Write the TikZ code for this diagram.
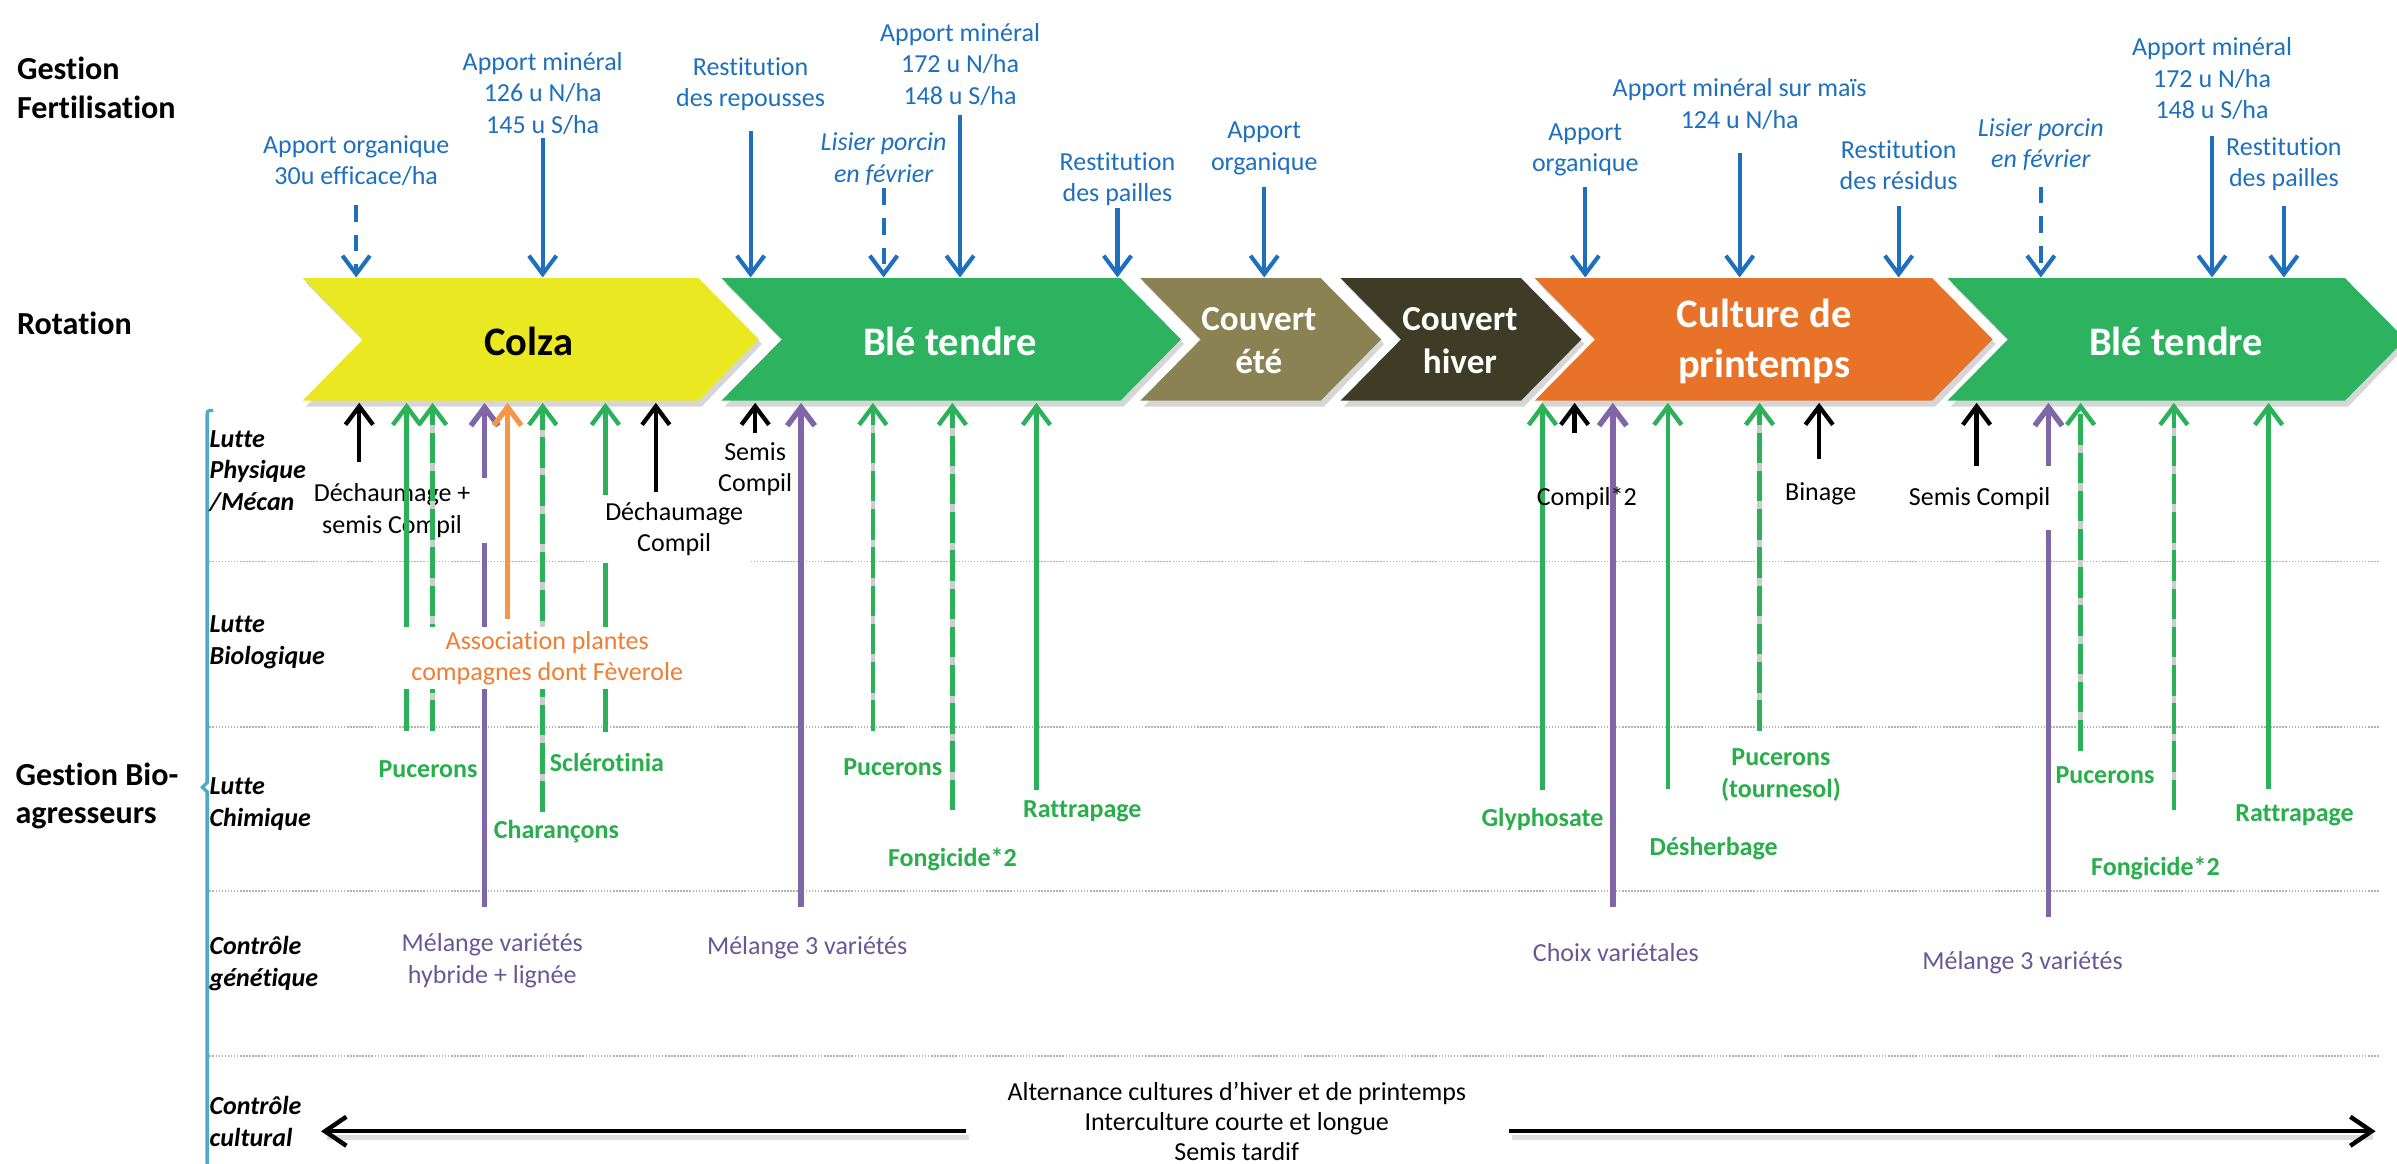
\documentclass[tikz,border=0pt]{standalone}
\usepackage{fontspec}
\setmainfont{Carlito}[Ligatures={NoCommon,NoContextual}, Contextuals=NoAlternate]
\usetikzlibrary{arrows.meta}
\definecolor{fblue}{RGB}{30,112,190}
\definecolor{ggreen}{RGB}{43,177,88}
\definecolor{gtext}{RGB}{40,175,75}
\definecolor{vpurple}{RGB}{128,102,168}
\definecolor{ptext}{RGB}{104,88,150}
\definecolor{oline}{RGB}{247,150,70}
\definecolor{otext}{RGB}{240,125,50}
\definecolor{cyel}{RGB}{234,232,32}
\definecolor{cgreen}{RGB}{45,178,96}
\definecolor{colive}{RGB}{138,130,82}
\definecolor{cdark}{RGB}{62,60,38}
\definecolor{corange}{RGB}{232,114,40}
\definecolor{bracketblue}{RGB}{75,172,198}
\newcommand\mychev[3]{%
  \fill[black,opacity=0.16] ({#1+2},185) -- ({#2+2},185) -- ({#2+41.5},225) -- ({#2+2},266) -- ({#1+2},266) -- ({#1+41.5},225) -- cycle;
  \fill[#3] (#1,182) -- (#2,182) -- ({#2+39.5},222) -- (#2,262) -- (#1,262) -- ({#1+39.5},222) -- cycle;}
\begin{document}
\begin{tikzpicture}[x=1pt,y=-1pt,
  lab/.style={font=\fontsize{17}{20.5}\selectfont, align=center, inner sep=0pt},
  flab/.style={lab, text=fblue},
  flabi/.style={flab, font=\fontsize{17}{20.5}\selectfont\itshape},
  klab/.style={lab, text=black},
  glab/.style={lab, text=gtext, font=\fontsize{17}{20.5}\selectfont\bfseries},
  plab/.style={lab, text=ptext},
  olab/.style={lab, text=otext},
  wbox/.style={fill=white},
  rowlab/.style={font=\fontsize{17}{20.7}\selectfont\bfseries\itshape, align=left, anchor=west, inner sep=0pt},
  biglab/.style={font=\fontsize{21}{25}\selectfont\bfseries, align=left, anchor=west, inner sep=0pt},
  chevtxt/.style={font=\fontsize{26.5}{33}\selectfont\bfseries, text=white, align=center, inner sep=0pt},
  covtxt/.style={chevtxt, font=\fontsize{23}{28}\selectfont\bfseries},
  tipb/.style={-{Straight Barb[length=12pt,width=18pt]}},
  farrow/.style={draw=fblue, line width=2.7pt, -{Straight Barb[length=12pt,width=18pt]}},
  fdash/.style={farrow, dash pattern=on 11pt off 8.5pt},
  garrow/.style={draw=ggreen, line width=2.9pt, tipb},
  gdash/.style={garrow, dash pattern=on 20pt off 5pt},
  gshadow/.style={draw=gray!40, line width=2.9pt},
  parrow/.style={draw=vpurple, line width=3.6pt, tipb},
  oarrow/.style={draw=oline, line width=3.4pt, tipb},
  karrow/.style={draw=black, line width=2.8pt, tipb},
  carrow/.style={draw=black, line width=2.9pt, -{Straight Barb[length=14pt,width=19pt]}},
  cshadow/.style={draw=gray!45, line width=3.5pt},
  sep/.style={draw=gray!60, line width=1pt, dash pattern=on 1pt off 1pt}]
\useasboundingbox (0,0) rectangle (1568,761);
\fill[white] (0,0) rectangle (1568,761);

% ---------- left labels ----------
\node[biglab] (gf) at (11,57.5) {Gestion\\Fertilisation};
\node[biglab] (rot) at (11,211.5) {Rotation};
\node[biglab] (gb) at (10,520.5) {Gestion Bio-\\agresseurs};

% ---------- chevrons ----------
\mychev{198}{457}{cyel}
\mychev{472}{733}{cgreen}
\mychev{746}{864}{colive}
\mychev{877}{995}{cdark}
\mychev{1004}{1264}{corange}
\mychev{1274}{1534}{cgreen}
\node[chevtxt, text=black] (colza) at (346,223.5) {Colza};
\node[chevtxt] (ble1) at (621.5,223.5) {Blé tendre};
\node[covtxt] (cete) at (823.5,223) {Couvert\\été};
\node[covtxt] (chiv) at (955,223) {Couvert\\hiver};
\node[chevtxt] (cprin) at (1154,223.5) {Culture de\\printemps};
\node[chevtxt] (ble2) at (1423.5,223.5) {Blé tendre};

% ---------- fertilisation labels ----------
\node[flab] (f1) at (233,105) {Apport organique\\30u efficace/ha};
\node[flab] (f2) at (355,61) {Apport minéral\\126 u N/ha\\145 u S/ha};
\node[flab] (f3) at (491,55) {Restitution\\des repousses};
\node[flabi] (f4) at (578,104) {Lisier porcin\\en février};
\node[flab] (f5) at (628,42) {Apport minéral\\172 u N/ha\\148 u S/ha};
\node[flab] (f6) at (731,117) {Restitution\\des pailles};
\node[flab] (f7) at (827,97) {Apport\\organique};
\node[flab] (f8) at (1037,98) {Apport\\organique};
\node[flab] (f9) at (1138,68) {Apport minéral sur maïs\\124 u N/ha};
\node[flab] (f10) at (1242,108) {Restitution\\des résidus};
\node[flabi] (f11) at (1335,94.5) {Lisier porcin\\en février};
\node[flab] (f12) at (1447,51.5) {Apport minéral\\172 u N/ha\\148 u S/ha};
\node[flab] (f13) at (1494,107.5) {Restitution\\des pailles};

\foreach \n/\x/\y in {1/233/134,2/355/90,3/491/86,4/578/123,5/628/75,6/731/136,7/827/122,8/1037/122,9/1138/100,10/1242/135,11/1335/122,12/1447/89,13/1494/135}{
  \coordinate (fs\n) at (\x,\y);
  \coordinate (ft\n) at (\x,181.5);
}
\draw[fdash] (fs1) -- (ft1);
\draw[farrow] (fs2) -- (ft2);
\draw[farrow] (fs3) -- (ft3);
\draw[fdash] (fs4) -- (ft4);
\draw[farrow] (fs5) -- (ft5);
\draw[farrow] (fs6) -- (ft6);
\draw[farrow] (fs7) -- (ft7);
\draw[farrow] (fs8) -- (ft8);
\draw[farrow] (fs9) -- (ft9);
\draw[farrow] (fs10) -- (ft10);
\draw[fdash] (fs11) -- (ft11);
\draw[farrow] (fs12) -- (ft12);
\draw[farrow] (fs13) -- (ft13);

% ---------- grid, bracket, row labels ----------
\foreach \y in {367.4,475.4,583,690.6} \draw[sep] (137,\y) -- (1556,\y);
\draw[draw=bracketblue, line width=2.2pt] (139.5,268.5) .. controls (135.5,268.5) .. (135.5,273) -- (135.5,512) -- (132.5,515) -- (135.5,518) -- (135.5,762);
\node[rowlab] (r1) at (137,308) {Lutte\\Physique\\/Mécan};
\node[rowlab] (r2) at (137,420) {Lutte\\Biologique};
\node[rowlab] (r3) at (137,526) {Lutte\\Chimique};
\node[rowlab] (r4) at (137,630.5) {Contrôle\\génétique};
\node[rowlab] (r5) at (137,733.5) {Contrôle\\cultural};

% ---------- bottom arrow coordinates ----------
\foreach \n/\x/\y in {p1/317/593,o1/332/405,k1/235/302,k2/429/322,k3/494/283,p2/524/593,k4/1030/283,p3/1055/593,k5/1190/300,k6/1293/307,p4/1340/600,
  g1/266/478,g2/283/478,g3/355/531,g4/396/479,g5/571/478,g6/623/530,g7/678/517,g8/1009/517,g9/1091/516,g10/1151/478,g11/1361/491,g12/1422/530,g13/1484/516}{
  \coordinate (\n s) at (\x,\y);
  \coordinate (\n t) at (\x,263.5);
  \coordinate (\n m) at (\x,278);
}
% purple, orange, black
\draw[parrow] (p1s) -- (p1t);
\draw[oarrow] (o1s) -- (o1t);
\draw[karrow] (k1s) -- (k1t);
\draw[karrow] (k2s) -- (k2t);
\draw[karrow] (k3s) -- (k3t);
\draw[parrow] (p2s) -- (p2t);
\draw[karrow] (k4s) -- (k4t);
\draw[parrow] (p3s) -- (p3t);
\draw[karrow] (k5s) -- (k5t);
\draw[karrow] (k6s) -- (k6t);
\draw[parrow] (p4s) -- (p4t);

% boxes under the green lines
\node[klab, wbox, minimum width=127pt, minimum height=42pt] (dech1) at (256.5,334) {Déchaumage +\\semis Compil};
\node[klab, wbox, minimum width=98pt, minimum height=42pt] (semis2) at (1295,326) {Semis Compil};

% green lines
\foreach \n in {g2,g3,g5,g6,g10,g11,g12} \draw[gshadow] (\n s) -- (\n m);
\draw[garrow] (g1s) -- (g1t);
\draw[gdash] (g2s) -- (g2t);
\draw[gdash] (g3s) -- (g3t);
\draw[garrow] (g4s) -- (g4t);
\draw[gdash] (g5s) -- (g5t);
\draw[gdash] (g6s) -- (g6t);
\draw[garrow] (g7s) -- (g7t);
\draw[garrow] (g8s) -- (g8t);
\draw[garrow] (g9s) -- (g9t);
\draw[gdash] (g10s) -- (g10t);
\draw[gdash] (g11s) -- (g11t);
\draw[gdash] (g12s) -- (g12t);
\draw[garrow] (g13s) -- (g13t);

% boxes over the green lines
\node[olab, wbox, minimum width=192pt, minimum height=41pt] (assoc) at (358,430.5) {Association plantes\\compagnes dont Fèverole};
\node[klab, wbox, minimum width=98pt, minimum height=44pt] (dech2) at (441,346) {Déchaumage\\Compil};

% ---------- other labels ----------
\node[klab] (semis1) at (494,307) {Semis\\Compil};
\node[klab] (comp2) at (1038,326) {Compil*2};
\node[klab] (binage) at (1191,323) {Binage};

\node[glab] (puc1) at (280,503) {Pucerons};
\node[glab] (chara) at (364,544) {Charançons};
\node[glab] (sclero) at (397,499) {Sclérotinia};
\node[glab] (puc2) at (584,502) {Pucerons};
\node[glab] (fong1) at (623,562) {Fongicide*2};
\node[glab] (ratt1) at (708,531) {Rattrapage};
\node[glab] (glypho) at (1009,536) {Glyphosate};
\node[glab] (desh) at (1121,555) {Désherbage};
\node[glab] (puc3) at (1165,507) {Pucerons\\(tournesol)};
\node[glab] (puc4) at (1377,507) {Pucerons};
\node[glab] (fong2) at (1410,568) {Fongicide*2};
\node[glab] (ratt2) at (1501,533) {Rattrapage};

\node[plab] (mel1) at (322,628.5) {Mélange variétés\\hybride + lignée};
\node[plab] (mel2) at (528,620) {Mélange 3 variétés};
\node[plab] (choix) at (1057,623) {Choix variétales};
\node[plab] (mel3) at (1323,630) {Mélange 3 variétés};

% ---------- cultural control ----------
\node[klab, font=\fontsize{17}{19.8}\selectfont] (cult) at (809,733.5) {Alternance cultures d’hiver et de printemps\\Interculture courte et longue\\Semis tardif};
\coordinate (cl1) at (632,740);
\coordinate (cl2) at (210,740);
\coordinate (cr1) at (987,740);
\coordinate (cr2) at (1554,740);
\coordinate (cl1b) at (634,744);
\coordinate (cl2b) at (214,744);
\coordinate (cr1b) at (989,744);
\coordinate (cr2b) at (1552,744);
\draw[cshadow, opacity=0.6] (cl1b) -- (cl2b);
\draw[cshadow, opacity=0.6] (cr1b) -- (cr2b);
\draw[carrow] (cl1) -- (cl2);
\draw[carrow] (cr1) -- (cr2);
\end{tikzpicture}
\end{document}
